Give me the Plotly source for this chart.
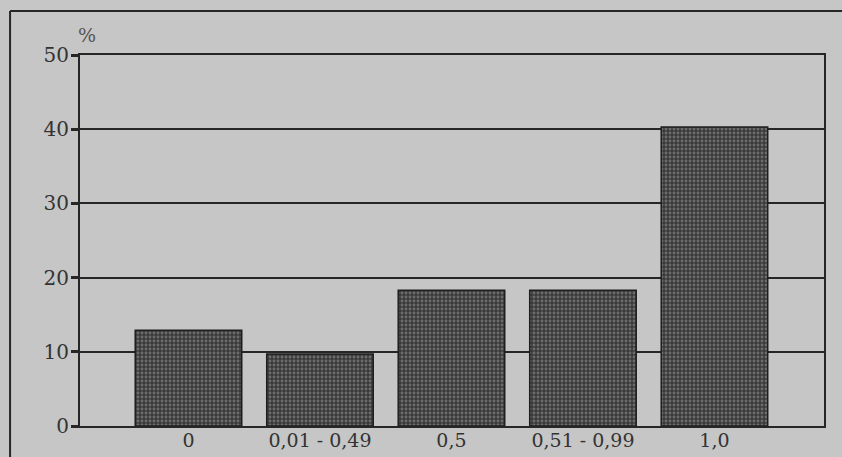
import plotly.graph_objects as go

categories = ["0", "0,01 - 0,49", "0,5", "0,51 - 0,99", "1,0"]
values = [12.9, 9.7, 18.3, 18.3, 40.3]
y_ticks = [0, 10, 20, 30, 40, 50]

BG = "#c6c6c6"
INK = "#262626"
FONT = "DejaVu Serif"

fig = go.Figure()
fig.add_trace(go.Bar(
    x=categories, y=values, width=0.81,
    marker=dict(
        color="#3a3a3a",
        line=dict(color="#1e1e1e", width=1.5),
        pattern=dict(shape=".", bgcolor="#3a3a3a", fgcolor="#a0a0a0", size=4, solidity=0.4),
    ),
    hoverinfo="skip",
))

fig.update_layout(
    width=842, height=457,
    margin=dict(l=80, r=18, t=55, b=31, autoexpand=False),
    paper_bgcolor=BG, plot_bgcolor=BG,
    showlegend=False,
    font=dict(family=FONT, size=19, color=INK),
    xaxis=dict(
        type="category", range=[-0.825, 4.833], automargin=False,
        showline=True, linecolor=INK, linewidth=2, mirror=True,
        showgrid=False, ticks="", zeroline=False, ticklabelstandoff=-4,
        tickfont=dict(family=FONT, size=19, color="#333333"),
    ),
    yaxis=dict(
        range=[0, 50], tickvals=y_ticks, automargin=False,
        showline=True, linecolor=INK, linewidth=2, mirror=True,
        showgrid=True, gridcolor=INK, gridwidth=2,
        ticks="outside", ticklen=7, tickwidth=3, tickcolor=INK,
        zeroline=False, ticklabelstandoff=-2,
        tickfont=dict(family=FONT, size=20, color="#333333"),
    ),
    annotations=[dict(
        text="%", xref="paper", yref="paper", x=-0.005, y=1.02,
        xanchor="left", yanchor="bottom", showarrow=False,
        font=dict(family=FONT, size=19, color="#555555"),
    )],
    shapes=[
        dict(type="line", xref="paper", yref="paper", x0=-0.094, x1=-0.094, y0=-0.2, y1=1.1186,
             line=dict(color=INK, width=2)),
        dict(type="line", xref="paper", yref="paper", x0=-0.094, x1=1.1, y0=1.1186, y1=1.1186,
             line=dict(color=INK, width=2)),
    ],
)

fig.write_html(
    "out.html",
    config={"displayModeBar": False, "staticPlot": True},
    post_script="document.body.style.margin='0';document.body.style.padding='0';document.body.style.overflow='hidden';",
)
